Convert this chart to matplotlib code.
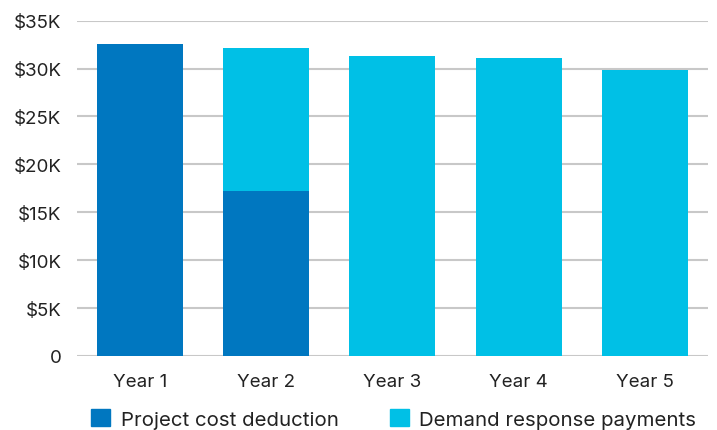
import matplotlib
matplotlib.use("Agg")
import matplotlib.pyplot as plt
import numpy as np
from matplotlib.patches import Patch

# ─── data ────────────────────────────────────────────────────────────────────
years = ["Year 1", "Year 2", "Year 3", "Year 4", "Year 5"]
project_cost = [32.6, 17.2, 0, 0, 0]          # $K
demand_response = [0, 14.95, 31.3, 31.1, 29.85]  # $K
yticks = [0, 5, 10, 15, 20, 25, 30, 35]
ytick_labels = ["0", "$5K", "$10K", "$15K", "$20K", "$25K", "$30K", "$35K"]

dark_blue = "#0077C0"
light_blue = "#00C0E6"
text_col = "#222222"

plt.rcParams['font.family'] = ['Inter', 'DejaVu Sans']

fig = plt.figure(figsize=(7.17, 4.31), dpi=100)
ax = fig.add_axes([0.107, 0.1717, 0.8805, 0.778])

x = np.arange(len(years))
ax.bar(x, project_cost, width=0.68, color=dark_blue, zorder=3)
ax.bar(x, demand_response, width=0.68, bottom=project_cost, color=light_blue, zorder=3)

ax.set_xlim(-0.5, 4.5)
ax.set_ylim(0, 35)
ax.set_yticks(yticks)
ax.set_yticklabels(ytick_labels)
ax.set_xticks(x)
ax.set_xticklabels(years)
ax.grid(axis="y", color="#c8c8c8", linewidth=1.5, zorder=0)
for s in ax.spines.values():
    s.set_visible(False)
ax.tick_params(length=0, labelsize=13.5, colors=text_col)
ax.tick_params(axis="y", pad=11)
ax.tick_params(axis="x", pad=12)

handles = [Patch(color=dark_blue, label="Project cost deduction"),
           Patch(color=light_blue, label="Demand response payments")]
fig.legend(handles=handles, loc="center", bbox_to_anchor=(0.549, 0.026),
           ncol=2, frameon=False, fontsize=14.7, handlelength=0.93,
           handleheight=0.93, handletextpad=0.5, columnspacing=2.5,
           labelcolor=text_col)

fig.savefig("out.png", dpi=100)
